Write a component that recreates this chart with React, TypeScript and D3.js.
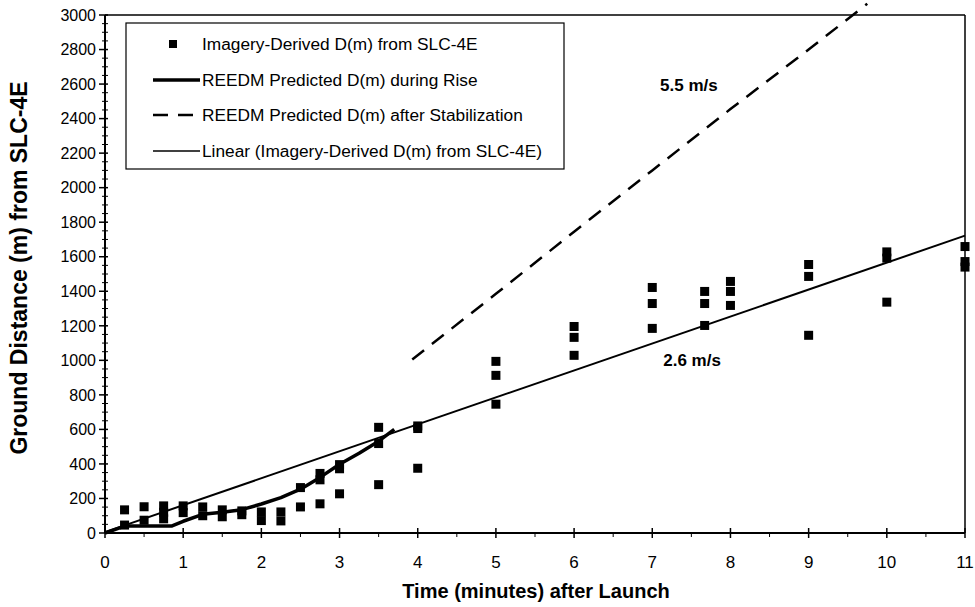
import React from "react";
import * as d3 from "d3";

// Imagery-derived observations (time in minutes, distance in m)
const obsTime = [
  0.25, 0.25, 0.5, 0.5, 0.75, 0.75, 0.75, 1.0, 1.0, 1.25, 1.25, 1.5, 1.5, 1.75, 1.75,
  2.0, 2.0, 2.25, 2.25, 2.5, 2.5, 2.75, 2.75, 2.75, 3.0, 3.0, 3.0, 3.5, 3.5, 3.5,
  4.0, 4.0, 4.0, 5, 5, 5, 6, 6, 6, 7, 7, 7, 7.67, 7.67, 7.67, 8, 8, 8, 9, 9, 9,
  10, 10, 10, 11, 11, 11,
];
const obsDist = [
  134, 46, 152, 74, 157, 120, 82, 157, 118, 151, 100, 134, 94, 128, 106,
  122, 72, 122, 70, 263, 151, 345, 308, 169, 396, 372, 227, 612, 518, 280,
  620, 605, 375, 994, 913, 746, 1196, 1133, 1029, 1422, 1329, 1185, 1399, 1329, 1202,
  1457, 1399, 1318, 1555, 1486, 1145, 1628, 1592, 1337, 1659, 1572, 1540,
];

// REEDM predicted during rise
const riseTime = [0, 0.25, 0.5, 0.85, 1.0, 1.25, 1.5, 1.75, 2.0, 2.25, 2.5, 2.75, 3.0, 3.25, 3.5, 3.7];
const riseDist = [0, 40, 40, 40, 68, 108, 120, 135, 168, 205, 254, 322, 398, 462, 532, 600];

// REEDM predicted after stabilization
const stabTime = [3.93, 5, 6, 7, 8, 9, 9.75];
const stabDist = [1005, 1385, 1745, 2100, 2455, 2800, 3065];

// Linear trend of imagery-derived data
const linTime = [0, 11];
const linDist = [5, 1722];

const xTicks = [0, 1, 2, 3, 4, 5, 6, 7, 8, 9, 10, 11];
const yTicks = [0, 200, 400, 600, 800, 1000, 1200, 1400, 1600, 1800, 2000, 2200, 2400, 2600, 2800, 3000];

const legendLabels = [
  "Imagery-Derived D(m) from SLC-4E",
  "REEDM Predicted D(m) during Rise",
  "REEDM Predicted D(m) after Stabilization",
  "Linear (Imagery-Derived D(m) from SLC-4E)",
];

const annotations = [
  { text: "5.5 m/s", t: 7.1, d: 2560 },
  { text: "2.6 m/s", t: 7.14, d: 967 },
];

const FONT = "'Liberation Sans', Arial, Helvetica, sans-serif";

export default function App() {
  const W = 975;
  const H = 607;
  const x = d3.scaleLinear().domain([0, 11]).range([105, 965]);
  const y = d3.scaleLinear().domain([0, 3000]).range([533, 15]);

  const line = d3
    .line<[number, number]>()
    .x((p) => x(p[0]))
    .y((p) => y(p[1]));

  const rise = riseTime.map((t, i) => [t, riseDist[i]] as [number, number]);
  const stab = stabTime.map((t, i) => [t, stabDist[i]] as [number, number]);
  const lin = linTime.map((t, i) => [t, linDist[i]] as [number, number]);

  const xMinor = d3.range(0, 11.01, 0.5).filter((v) => Math.abs(v - Math.round(v)) > 0.01);
  const yMinor = d3.range(0, 3001, 50).filter((v) => v % 200 !== 0);

  const sq = 9;
  const legX = 126;
  const legY = 23;
  const legW = 438;
  const legH = 146;
  const rowY = [44, 80, 115, 151];

  return (
    <svg
      width={W}
      height={H}
      style={{ position: "absolute", left: 0, top: 0, background: "#fff" }}
      fontFamily={FONT}
    >
      <rect width={W} height={H} fill="#fff" />
      {/* frame top & right */}
      <line x1={x(0)} x2={x(11)} y1={y(3000)} y2={y(3000)} stroke="#000" strokeWidth={1.5} />
      <line x1={x(11)} x2={x(11)} y1={y(3000)} y2={y(0)} stroke="#000" strokeWidth={1.5} />

      {/* y axis */}
      <line x1={x(0)} x2={x(0)} y1={y(3000)} y2={y(0)} stroke="#000" strokeWidth={2} />
      {yMinor.map((v) => (
        <line key={"ym" + v} x1={x(0) - 3} x2={x(0) + 3} y1={y(v)} y2={y(v)} stroke="#000" strokeWidth={1} />
      ))}
      {yTicks.map((v) => (
        <g key={"y" + v}>
          <line x1={x(0) - 6} x2={x(0) + 3} y1={y(v)} y2={y(v)} stroke="#000" strokeWidth={1.5} />
          <text x={x(0) - 9} y={y(v)} dy="0.36em" textAnchor="end" fontSize={16}>
            {v}
          </text>
        </g>
      ))}

      {/* x axis */}
      <line x1={x(0)} x2={x(11)} y1={y(0)} y2={y(0)} stroke="#000" strokeWidth={2} />
      {xMinor.map((v) => (
        <line key={"xm" + v} x1={x(v)} x2={x(v)} y1={y(0)} y2={y(0) + 4} stroke="#000" strokeWidth={1} />
      ))}
      {xTicks.map((v) => (
        <g key={"x" + v}>
          <line x1={x(v)} x2={x(v)} y1={y(0) - 5} y2={y(0) + 5} stroke="#000" strokeWidth={1.5} />
          <text x={x(v)} y={y(0) + 35} textAnchor="middle" fontSize={17}>
            {v}
          </text>
        </g>
      ))}

      {/* axis titles */}
      <text x={536} y={598} textAnchor="middle" fontSize={20} fontWeight="bold">
        Time (minutes) after Launch
      </text>
      <text
        transform={`translate(27, ${(y(0) + y(3000)) / 2 - 6}) rotate(-90)`}
        textAnchor="middle"
        fontSize={23}
        fontWeight="bold"
      >
        Ground Distance (m) from SLC-4E
      </text>

      {/* series */}
      <path d={line(lin) || ""} fill="none" stroke="#000" strokeWidth={2} />
      <path d={line(rise) || ""} fill="none" stroke="#000" strokeWidth={3.5} strokeLinejoin="round" />
      <path d={line(stab) || ""} fill="none" stroke="#000" strokeWidth={2.5} strokeDasharray="15,10" />
      {obsTime.map((t, i) => (
        <rect key={"o" + i} x={x(t) - sq / 2} y={y(obsDist[i]) - sq / 2} width={sq} height={sq} fill="#000" />
      ))}

      {/* annotations */}
      {annotations.map((a) => (
        <text key={a.text} x={x(a.t)} y={y(a.d)} fontSize={17} fontWeight="bold">
          {a.text}
        </text>
      ))}

      {/* legend */}
      <rect x={legX} y={legY} width={legW} height={legH} fill="#fff" stroke="#000" strokeWidth={1.2} />
      <rect x={173 - 4} y={rowY[0] - 4} width={8} height={8} fill="#000" />
      <line x1={153} x2={200} y1={rowY[1]} y2={rowY[1]} stroke="#000" strokeWidth={3.5} />
      <line x1={153} x2={200} y1={rowY[2]} y2={rowY[2]} stroke="#000" strokeWidth={2.5} strokeDasharray="15,10" />
      <line x1={153} x2={200} y1={rowY[3]} y2={rowY[3]} stroke="#000" strokeWidth={1.5} />
      {legendLabels.map((l, i) => (
        <text key={l} x={202} y={rowY[i]} dy="0.36em" fontSize={17.3}>
          {l}
        </text>
      ))}
    </svg>
  );
}
